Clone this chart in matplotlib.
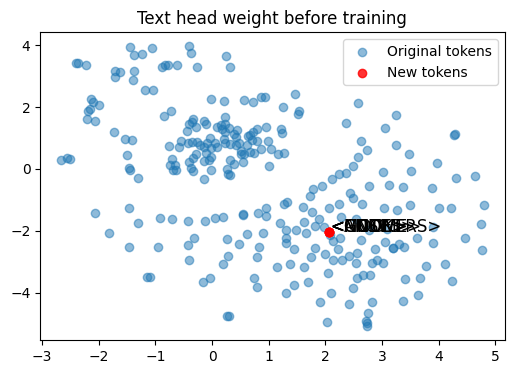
import matplotlib
matplotlib.use("Agg")
import matplotlib.pyplot as plt

# original token embeddings (2D projection)
orig_x = [
    -1.45, -1.38, -1.24, -1.06, -2.40, -2.37, -2.22, -1.71, -1.62, -1.71,
    -1.38, -1.40, -1.18, -1.04, -2.13, -2.10, -1.99, -2.15, -2.18, -2.21,
    -2.07, -1.73, -1.54, -1.41, -1.50, -2.66, -2.56, -2.50, -1.47, -1.45,
    -1.31,
    -0.41, -0.37, 0.25, 0.32, -0.89, -0.83, -0.78, -0.61, -0.26, -0.01,
    0.21, 0.56, 0.72, 0.86, 0.94, -0.72, -0.85, 0.22, -0.34, -0.36,
    -0.15, -0.41, -0.10, -0.29, 0.08, 0.15, 0.22, 0.30, 0.18, 0.44,
    0.79, 0.95, -0.44, 0.73, 0.67, 0.22, 0.38, 0.42, -0.04, 0.21,
    0.64, -0.55, -0.58, -0.76, -0.42, -0.35, -0.26, -0.21, -0.15, -0.09,
    -0.01, 0.06, 0.08, 0.23, 0.31, 0.42, 0.47, 0.61, 0.71, 0.79,
    0.86, 0.99, 0.51, 0.51, 0.56, 0.67, 0.74, -0.28, -0.34, -0.11,
    -0.01, -0.05, -0.14, 0.32, 0.39, 0.55, -0.71, -0.75, -0.66, -0.69,
    -0.64, -0.41, -0.37, -0.33, -0.01, 0.26, 0.28, 0.31, -0.15, 1.00,
    1.46, 1.25, 1.53, 1.51, 2.57, 2.36, 1.21, 1.23, 3.05, 1.04,
    1.16, 1.27, 2.63, 2.73, 2.57, 2.48, 2.36, 2.24, 2.12, 1.94,
    1.78, 2.77, 3.01,
    3.25, 4.26, 4.29, 3.24, 3.47, 3.97, 3.51, 3.13, 3.37, 3.88,
    4.31, 4.63,
    -2.06, -1.47, -1.31, -1.82, -1.47, -1.15, -1.09,
    -0.91, -0.71, -0.42, -0.12, 0.05, 0.19, 0.54, 0.55, 0.81, 0.95,
    0.95, -0.95, -0.32, -0.43, -0.41, 0.27, 0.48, 0.62, 0.90, 0.83,
    0.79, 0.28, 0.19, -0.16, -0.04, 0.74, 0.79, 0.27, 0.30,
    1.73, 2.43, 2.49, 1.27, 1.33, 1.60, 2.07, 2.24, 2.64, 3.04,
    1.76, 1.20, 1.31, 1.48, 1.62, 1.66, 1.88, 1.82, 1.97, 2.27,
    2.54, 1.31, 1.31, 1.44, 2.08, 2.14, 2.26, 2.22, 1.99, 1.82,
    2.62, 2.76, 3.08, 3.05, 2.88, 2.56, 2.42, 2.14, 2.29, 2.54,
    2.83, 2.91, 3.02, 1.75, 1.15, 1.38, 1.62, 2.05, 2.55, 2.67,
    2.78, 1.45, 1.69, 2.48, 1.30, 2.10, 1.91, 2.42, 2.82, 2.75,
    2.02, 2.71, 2.73, 2.73,
    3.26, 3.49, 4.00, 4.22, 4.79, 3.90, 4.74, 3.29, 3.19, 3.19,
    3.39, 3.62, 3.90, 4.46, 4.76, 3.77, 4.11, 3.40, 3.67, 4.23,
    3.63, 3.36,
]
orig_y = [
    3.93, 3.67, 3.71, 3.90, 3.41, 3.41, 3.36, 3.17, 3.13, 2.96,
    3.16, 2.86, 2.55, 2.55, 2.26, 2.17, 2.06, 1.95, 1.88, 1.60,
    1.55, 1.18, 0.96, 0.93, 0.44, 0.28, 0.35, 0.31, 0.04, -0.04,
    -0.31,
    3.97, 3.74, 3.65, 3.29, 3.29, 3.37, 3.37, 3.36, 3.29, 2.25,
    2.19, 2.23, 2.18, 2.32, 2.31, 1.87, 1.70, 1.67, 1.60, 1.52,
    1.56, 1.44, 1.45, 1.36, 1.35, 1.42, 1.45, 1.31, 1.28, 1.27,
    1.29, 1.34, 1.21, 1.20, 1.09, 1.20, 1.13, 1.04, 1.01, 0.97,
    1.06, 0.90, 0.71, 0.74, 0.83, 0.87, 0.86, 0.78, 0.72, 0.83,
    0.67, 0.83, 0.70, 0.85, 0.79, 0.76, 0.85, 0.78, 0.92, 0.89,
    0.65, 0.89, 0.59, 0.48, 0.48, 0.55, 0.52, 0.48, 0.35, 0.50,
    0.37, 0.29, 0.26, 0.28, 0.16, 0.21, 0.33, 0.13, 0.12, -0.04,
    -0.05, 0.23, 0.03, -0.06, -0.03, 0.00, -0.15, -0.21, -0.34, 0.09,
    2.42, 1.99, 1.86, 1.76, 2.12, 1.47, 1.29, 1.15, 1.31, 0.64,
    0.48, 0.53, 0.91, 0.61, 0.37, 0.09, -0.13, -0.15, -0.34, -0.55,
    -0.66, -0.55, -0.11,
    1.73, 1.10, 1.13, 0.76, 0.47, 0.18, -0.08, -0.52, -0.60, -0.62,
    -0.29, -0.22,
    -1.43, -1.25, -1.76, -2.06, -2.54, -3.51, -3.48,
    -1.60, -1.63, -1.67, -1.67, -1.60, -1.57, -1.50, -1.47, -1.41, -1.28,
    -1.52, -2.54, -2.22, -2.47, -2.96, -2.28, -2.42, -2.09, -2.06, -2.54,
    -2.85, -2.82, -3.06, -3.67, -3.54, -3.54, -3.83, -4.76, -4.76,
    -0.89, -0.79, -0.94, -1.15, -1.08, -1.23, -1.28, -1.12, -1.15, -1.28,
    -1.39, -1.76, -1.98, -1.96, -1.71, -2.06, -1.63, -1.85, -1.88, -1.57,
    -1.63, -2.23, -2.41, -2.60, -2.14, -2.34, -2.25, -2.60, -2.74, -2.55,
    -2.30, -1.99, -1.93, -2.36, -2.60, -2.72, -2.82, -2.96, -2.95, -3.03,
    -3.03, -2.96, -3.04, -2.85, -3.18, -3.09, -3.18, -3.36, -3.54, -3.44,
    -3.44, -3.74, -3.65, -3.84, -4.02, -4.00, -4.32, -4.38, -4.32, -4.67,
    -4.96, -4.93, -4.98, -5.08,
    -1.33, -1.18, -1.28, -1.28, -1.18, -1.87, -1.79, -2.44, -2.57, -2.57,
    -2.53, -2.25, -2.41, -2.22, -2.63, -3.15, -3.08, -3.57, -3.54, -3.63,
    -4.08, -4.26,
]

# added tokens all land on nearly the same spot
new_tokens = ["<CODE>", "<GNOME>", "<NOTES>", "<MOCK>", "<ANSWERS>"]
new_x = [2.06, 2.06, 2.06, 2.06, 2.06]
new_y = [-2.05, -2.05, -2.05, -2.05, -2.05]

fig = plt.figure(figsize=(5.15, 3.74), dpi=100)
plt.subplots_adjust(left=0.078, right=0.98, bottom=0.091, top=0.914)
plt.scatter(orig_x, orig_y, alpha=0.5, label="Original tokens")
plt.scatter(new_x, new_y, color="red", alpha=0.8, label="New tokens")
for tok, x, y in zip(new_tokens, new_x, new_y):
    plt.text(x + 0.03, y, tok, fontsize=12)
plt.title("Text head weight before training")
plt.legend(loc="upper right")
plt.savefig("out.png")
